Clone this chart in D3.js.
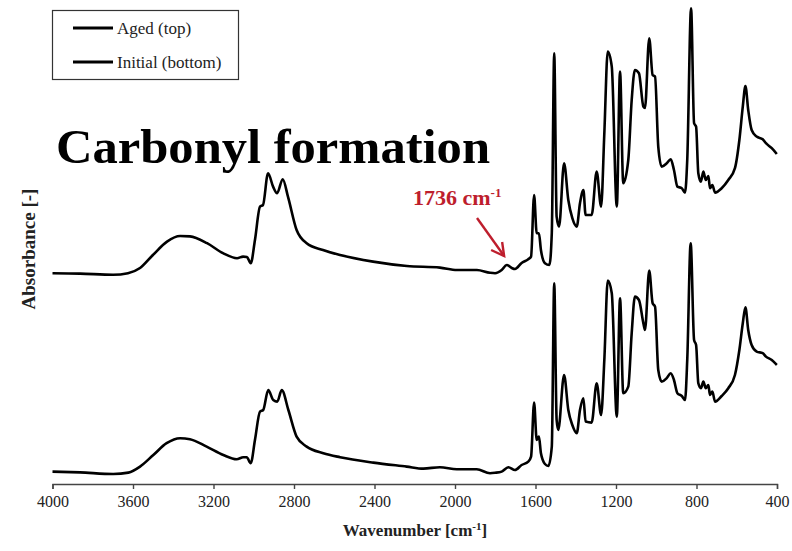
<!DOCTYPE html>
<html>
<head>
<meta charset="utf-8">
<script src="https://cdn.jsdelivr.net/npm/d3@7"></script>
<style>
  html, body { margin: 0; padding: 0; background: #fff; }
  svg { display: block; }
  text { font-family: "Liberation Serif", "Times New Roman", serif; }
</style>
</head>
<body>
<svg id="chart" width="792" height="551"></svg>
<script>
// FTIR spectra, stacked: aged sample on top, initial sample below (arbitrary absorbance units)
const agedWavenumber = [4000,3863,3699,3625,3565,3501,3431,3366,3317,3232,3153,3083,3053,3034,3015,2994,2969,2954,2929,2904,2884,2856,2830,2787,2737,2656,2571,2407,2239,2075,1990,1891,1826,1801,1768,1743,1718,1702,1669,1636,1622,1607,1594,1583,1573,1553,1531,1519,1507,1495,1483,1458,1437,1417,1395,1379,1362,1351,1321,1296,1274,1258,1241,1221,1196,1180,1164,1139,1122,1106,1086,1064,1056,1035,1018,1006,990,973,948,928,912,895,873,857,846,827,812,802,791,778,766,754,741,733,721,708,675,642,609,587,570,557,543,526,501,471,455,426,401];
const agedAbsorbance = [1.054,1.052,1.046,1.054,1.080,1.145,1.212,1.240,1.238,1.204,1.154,1.129,1.137,1.135,1.104,1.220,1.387,1.395,1.554,1.487,1.454,1.524,1.437,1.270,1.204,1.170,1.145,1.112,1.090,1.082,1.070,1.070,1.056,1.054,1.070,1.095,1.080,1.075,1.105,1.124,1.137,1.445,1.254,1.254,1.170,1.104,1.095,1.255,2.154,1.337,1.287,1.604,1.420,1.329,1.287,1.404,1.470,1.345,1.345,1.562,1.387,1.754,2.162,2.087,1.387,2.062,1.504,1.620,1.920,2.070,2.054,1.887,1.880,2.229,2.045,2.037,1.687,1.587,1.604,1.624,1.570,1.487,1.479,1.457,1.620,2.379,1.804,1.787,1.554,1.512,1.562,1.520,1.540,1.479,1.495,1.457,1.479,1.520,1.579,1.720,1.887,1.990,1.870,1.770,1.737,1.724,1.704,1.679,1.650];

const initialWavenumber = [4000,3863,3698,3623,3565,3499,3433,3366,3317,3234,3151,3085,3052,3035,3015,2994,2969,2953,2928,2903,2883,2861,2828,2787,2737,2654,2571,2406,2240,2157,2075,1991,1892,1826,1801,1768,1735,1702,1669,1636,1622,1607,1594,1583,1573,1553,1536,1519,1507,1495,1487,1458,1437,1417,1395,1379,1362,1351,1321,1296,1274,1258,1241,1221,1196,1180,1164,1139,1122,1106,1086,1064,1056,1035,1018,1006,990,973,948,928,912,895,873,857,846,829,812,802,791,778,766,754,741,733,721,708,675,642,609,587,570,557,543,526,501,471,455,426,401];
const initialAbsorbance = [0.062,0.058,0.050,0.057,0.087,0.145,0.204,0.229,0.224,0.187,0.145,0.124,0.134,0.134,0.104,0.220,0.362,0.370,0.470,0.420,0.412,0.470,0.370,0.237,0.187,0.154,0.134,0.107,0.087,0.077,0.084,0.074,0.074,0.054,0.056,0.062,0.084,0.070,0.095,0.112,0.137,0.407,0.220,0.237,0.154,0.100,0.090,0.187,1.004,0.320,0.270,0.545,0.370,0.295,0.254,0.370,0.429,0.312,0.307,0.504,0.345,0.620,1.017,0.954,0.337,0.929,0.454,0.487,0.754,0.937,0.920,0.804,0.770,1.067,0.904,0.887,0.570,0.512,0.529,0.554,0.520,0.454,0.440,0.420,0.620,1.204,0.720,0.695,0.504,0.479,0.512,0.479,0.495,0.445,0.462,0.412,0.440,0.479,0.545,0.670,0.804,0.884,0.770,0.695,0.662,0.654,0.637,0.620,0.595];

const xTicks = [4000,3600,3200,2800,2400,2000,1600,1200,800,400];
const seriesNames = ["Aged (top)", "Initial (bottom)"];
const carbonylBand = 1736;

const svg = d3.select("#chart");

const x = d3.scaleLinear().domain([4000, 400]).range([52.5, 777]);
const y = d3.scaleLinear().domain([0, 2.4]).range([484, 4]);

const line = d3.line()
  .x(d => x(d[0]))
  .y(d => y(d[1]))
  .curve(d3.curveMonotoneX);

const series = [
  d3.zip(agedWavenumber, agedAbsorbance),
  d3.zip(initialWavenumber, initialAbsorbance)
];

svg.append("g")
  .selectAll("path")
  .data(series)
  .join("path")
  .attr("d", line)
  .attr("fill", "none")
  .attr("stroke", "#000")
  .attr("stroke-width", 2.6)
  .attr("stroke-linejoin", "round");

// bottom axis
const axis = svg.append("g")
  .attr("transform", `translate(0,${y(0)})`)
  .call(d3.axisBottom(x).tickValues(xTicks).tickFormat(d3.format("d")).tickSize(5).tickPadding(7));
axis.select(".domain").attr("stroke", "#444").attr("stroke-width", 1.4);
axis.selectAll(".tick line").attr("stroke", "#444").attr("stroke-width", 1.4);
axis.selectAll(".tick text")
  .attr("font-family", "'Liberation Serif', 'Times New Roman', serif")
  .attr("font-size", 16)
  .attr("fill", "#222");

// axis titles
const xTitle = svg.append("text")
  .attr("x", 415).attr("y", 536)
  .attr("text-anchor", "middle")
  .attr("font-size", 17).attr("font-weight", "bold").attr("fill", "#222");
xTitle.append("tspan").text("Wavenumber [cm");
xTitle.append("tspan").attr("dy", -6).attr("font-size", 11).text("-1");
xTitle.append("tspan").attr("dy", 6).text("]");

svg.append("text")
  .attr("transform", "translate(35,249) rotate(-90)")
  .attr("text-anchor", "middle")
  .attr("font-size", 19).attr("font-weight", "bold").attr("fill", "#222")
  .text("Absorbance [-]");

// title
svg.append("text")
  .attr("x", 56).attr("y", 163)
  .attr("font-size", 48).attr("font-weight", "bold").attr("fill", "#000")
  .attr("textLength", 434).attr("lengthAdjust", "spacingAndGlyphs")
  .text("Carbonyl formation");

// carbonyl annotation
const red = "#be1e2d";
const ann = svg.append("text")
  .attr("x", 413).attr("y", 205)
  .attr("font-size", 22).attr("font-weight", "bold").attr("fill", red);
ann.append("tspan").text(`${carbonylBand} cm`);
ann.append("tspan").attr("dy", -8).attr("font-size", 13).text("-1");

const tipX = x(carbonylBand) - 4, tipY = 256;
svg.append("line")
  .attr("x1", 477).attr("y1", 218).attr("x2", tipX).attr("y2", tipY)
  .attr("stroke", red).attr("stroke-width", 2.4);
svg.append("polyline")
  .attr("points", `${tipX - 13},${tipY - 6} ${tipX},${tipY} ${tipX - 2},${tipY - 14}`)
  .attr("fill", "none").attr("stroke", red).attr("stroke-width", 2.4);

// legend
const legend = svg.append("g");
legend.append("rect")
  .attr("x", 52.5).attr("y", 10.5).attr("width", 186).attr("height", 69)
  .attr("fill", "#fff").attr("stroke", "#333").attr("stroke-width", 1.2);
seriesNames.forEach((name, i) => {
  const ly = 28 + i * 34;
  legend.append("line")
    .attr("x1", 73).attr("x2", 113).attr("y1", ly).attr("y2", ly)
    .attr("stroke", "#000").attr("stroke-width", 2.8);
  legend.append("text")
    .attr("x", 117).attr("y", ly + 5.5)
    .attr("font-size", 17).attr("fill", "#222")
    .text(name);
});
</script>
</body>
</html>
